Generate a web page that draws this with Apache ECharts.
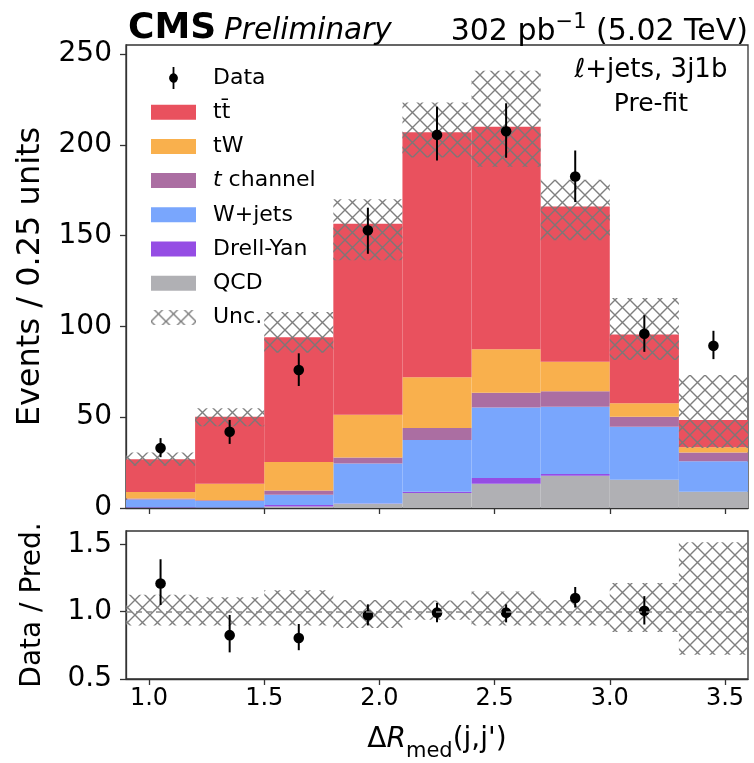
<!DOCTYPE html>
<html>
<head>
<meta charset="utf-8">
<script src="https://cdn.jsdelivr.net/npm/echarts@6/dist/echarts.min.js"></script>
<style>
html,body{margin:0;padding:0;background:#fff;}
#main{width:754px;height:763px;}
</style>
</head>
<body>
<div id="main"></div>
<script>
// ---------------- data ----------------
const binEdges = [0.9, 1.2, 1.5, 1.8, 2.1, 2.4, 2.7, 3.0, 3.3, 3.6];
const qcd      = [0.2, 0.2, 0.8, 2.4, 8.2, 13.4, 17.7, 15.5, 9.0];
const drellYan = [0.2, 0.1, 0.8, 0.1, 0.8, 3.1, 1.0, 0.1, 0.0];
const wjets    = [4.3, 3.5, 5.7, 22.0, 28.5, 38.8, 37.1, 29.2, 16.8];
const tchannel = [0.6, 0.4, 2.4, 3.3, 6.5, 8.2, 8.5, 5.5, 4.7];
const tW       = [3.5, 9.2, 15.6, 23.5, 28.0, 24.0, 16.2, 7.4, 3.0];
const ttbar    = [18.1, 36.9, 68.8, 105.3, 134.9, 122.5, 85.5, 37.9, 15.0];

const uncLow  = [23.3, 45.0, 85.5, 136.5, 193.0, 188.0, 147.4, 81.5, 33.0];
const uncHigh = [30.5, 55.0, 108.0, 170.0, 223.4, 240.8, 180.8, 115.7, 73.2];

const dataY    = [33, 42, 76, 153, 205.5, 207.5, 182.6, 96, 89.3];
const dataLow  = [28.0, 35.3, 67.2, 140.0, 191.4, 192.9, 168.5, 86.0, 82.0];
const dataHigh = [38.5, 48.5, 85.2, 165.4, 221.0, 222.9, 196.9, 106.2, 97.6];

const ratioY    = [1.21, 0.826, 0.805, 0.974, 0.993, 0.993, 1.102, 1.007, null];
const ratioLow  = [1.05, 0.698, 0.714, 0.898, 0.921, 0.921, 1.031, 0.905, null];
const ratioHigh = [1.39, 0.976, 0.909, 1.055, 1.064, 1.055, 1.184, 1.116, null];
const ratioUncLow  = [0.897, 0.897, 0.897, 0.879, 0.94, 0.898, 0.898, 0.85, 0.68];
const ratioUncHigh = [1.126, 1.107, 1.16, 1.088, 1.083, 1.15, 1.088, 1.214, 1.516];

const xTicks = [1.0, 1.5, 2.0, 2.5, 3.0, 3.5];
const yTicks = [0, 50, 100, 150, 200, 250];
const ratioTicks = [0.5, 1.0, 1.5];

// ---------------- styling ----------------
const FONT = 'DejaVu Sans';
const colors = {
  'QCD': '#b0b0b4',
  'Drell-Yan': '#954de4',
  'W+jets': '#79a6fd',
  't channel': '#ab6ea2',
  'tW': '#f9b04d',
  'tt\u0304': '#e9515e'
};

function makeHatch() {
  const c = document.createElement('canvas');
  const s = 15;
  c.width = s; c.height = s;
  const g = c.getContext('2d');
  g.strokeStyle = 'rgba(120,120,120,0.95)';
  g.lineWidth = 1.4;
  g.beginPath();
  g.moveTo(-2, -2); g.lineTo(s + 2, s + 2);
  g.moveTo(s + 2, -2); g.lineTo(-2, s + 2);
  g.stroke();
  return { image: c, repeat: 'repeat' };
}
const hatch = makeHatch();

// stacked process series (bottom to top)
const processes = [
  ['QCD', qcd], ['Drell-Yan', drellYan], ['W+jets', wjets],
  ['t channel', tchannel], ['tW', tW], ['tt\u0304', ttbar]
];
const cum = binEdges.slice(0, -1).map(() => 0);

function rectRender(fill) {
  return function (params, api) {
    const p0 = api.coord([api.value(0), api.value(2)]);
    const p1 = api.coord([api.value(1), api.value(3)]);
    return {
      type: 'rect',
      shape: { x: p0[0], y: p1[1], width: p1[0] - p0[0], height: p0[1] - p1[1] },
      style: { fill: fill, stroke: null }
    };
  };
}

const series = [];
processes.forEach(([name, vals]) => {
  const d = vals.map((v, i) => {
    const lo = cum[i];
    cum[i] += v;
    return [binEdges[i], binEdges[i + 1], lo, cum[i]];
  });
  series.push({
    type: 'custom', name: name, xAxisIndex: 0, yAxisIndex: 0,
    itemStyle: { color: colors[name] },
    encode: { x: [0, 1], y: [2, 3] },
    renderItem: rectRender(colors[name]),
    data: d
  });
});

// uncertainty hatch (top)
series.push({
  type: 'custom', name: 'Unc.', xAxisIndex: 0, yAxisIndex: 0,
  itemStyle: { color: hatch },
  encode: { x: [0, 1], y: [2, 3] },
  renderItem: rectRender(hatch),
  data: uncLow.map((v, i) => [binEdges[i], binEdges[i + 1], v, uncHigh[i]])
});

function errRender(params, api) {
  const x = api.value(0);
  const c = api.coord([x, api.value(1)]);
  const lo = api.coord([x, api.value(2)]);
  const hi = api.coord([x, api.value(3)]);
  return {
    type: 'group',
    children: [
      { type: 'line', shape: { x1: lo[0], y1: lo[1], x2: hi[0], y2: hi[1] },
        style: { stroke: '#000', lineWidth: 2 } },
      { type: 'circle', shape: { cx: c[0], cy: c[1], r: 5.3 }, style: { fill: '#000' } }
    ]
  };
}

series.push({
  type: 'custom', name: 'Data', xAxisIndex: 0, yAxisIndex: 0,
  itemStyle: { color: '#000', borderColor: '#000' },
  encode: { x: 0, y: [1, 2, 3] },
  renderItem: errRender,
  data: dataY.map((v, i) => [(binEdges[i] + binEdges[i + 1]) / 2, v, dataLow[i], dataHigh[i]])
});

// ratio panel
series.push({
  type: 'custom', name: 'Unc.', xAxisIndex: 1, yAxisIndex: 1,
  itemStyle: { color: hatch },
  encode: { x: [0, 1], y: [2, 3] },
  renderItem: rectRender(hatch),
  data: ratioUncLow.map((v, i) => [binEdges[i], binEdges[i + 1], v, ratioUncHigh[i]]),
  markLine: {
    silent: true, symbol: 'none', label: { show: false },
    lineStyle: { color: '#888', type: [6, 4], width: 1.5 },
    data: [{ yAxis: 1.0 }]
  }
});
series.push({
  type: 'custom', name: 'Data', xAxisIndex: 1, yAxisIndex: 1,
  itemStyle: { color: '#000', borderColor: '#000' },
  encode: { x: 0, y: [1, 2, 3] },
  clip: true,
  renderItem: errRender,
  data: ratioY.map((v, i) => v == null ? null :
    [(binEdges[i] + binEdges[i + 1]) / 2, v, ratioLow[i], ratioHigh[i]]).filter(d => d)
});

const axisLineStyle = { color: '#333', width: 1.3 };
const rectIcon = 'path://M0,0H45V15H0Z';
const dataIcon = 'path://M4.1,0H5.9V6.3A4.9,4.9 0 0 1 5.9,15.7V22H4.1V15.7A4.9,4.9 0 0 1 4.1,6.3Z';

const chart = echarts.init(document.getElementById('main'), null, { renderer: 'canvas' });
chart.setOption({
  animation: false,
  backgroundColor: '#fff',
  textStyle: { fontFamily: FONT },
  grid: [
    { left: 126, right: 6, top: 45, height: 463, show: true, borderColor: '#333', borderWidth: 1.3, backgroundColor: 'transparent' },
    { left: 126, right: 6, top: 531, height: 154, show: true, borderColor: '#333', borderWidth: 1.3, backgroundColor: 'transparent' }
  ],
  xAxis: [
    { type: 'value', gridIndex: 0, min: 0.9, max: 3.6,
      axisLine: { show: true, lineStyle: axisLineStyle },
      axisTick: { show: true, length: 6, customValues: xTicks, lineStyle: axisLineStyle },
      axisLabel: { show: false, customValues: xTicks },
      splitLine: { show: false } },
    { type: 'value', gridIndex: 1, min: 0.9, max: 3.6,
      axisLine: { show: true, lineStyle: axisLineStyle },
      axisTick: { show: true, length: 6, customValues: xTicks, lineStyle: axisLineStyle },
      axisLabel: { show: true, customValues: xTicks, fontSize: 24, color: '#000', fontFamily: FONT, margin: 8,
        formatter: v => v.toFixed(1) },
      splitLine: { show: false },
      name: '{a|\u0394}{i|R}{s|med}{a|(j,j\')}',
      nameLocation: 'middle', nameGap: 47,
      nameTextStyle: {
        rich: {
          a: { fontSize: 28, fontFamily: FONT, color: '#000', lineHeight: 36, verticalAlign: 'top' },
          i: { fontSize: 28, fontFamily: FONT, fontStyle: 'italic', color: '#000', lineHeight: 36, verticalAlign: 'top' },
          s: { fontSize: 21, fontFamily: FONT, color: '#000', lineHeight: 21, verticalAlign: 'bottom' }
        }
      } }
  ],
  yAxis: [
    { type: 'value', gridIndex: 0, min: 0, max: 255,
      axisLine: { show: true, lineStyle: axisLineStyle },
      axisTick: { show: true, length: 6, customValues: yTicks, lineStyle: axisLineStyle },
      axisLabel: { customValues: yTicks, fontSize: 28, color: '#000', fontFamily: FONT, margin: 14 },
      splitLine: { show: false },
      name: 'Events / 0.25 units', nameLocation: 'middle', nameGap: 79,
      nameTextStyle: { fontSize: 32, fontFamily: FONT, color: '#000' } },
    { type: 'value', gridIndex: 1, min: 0.5, max: 1.6,
      axisLine: { show: true, lineStyle: axisLineStyle },
      axisTick: { show: true, length: 6, customValues: ratioTicks, lineStyle: axisLineStyle },
      axisLabel: { customValues: ratioTicks, fontSize: 28, color: '#000', fontFamily: FONT, margin: 14,
        formatter: v => v.toFixed(1) },
      splitLine: { show: false },
      name: 'Data / Pred.', nameLocation: 'middle', nameGap: 79,
      nameTextStyle: { fontSize: 28, fontFamily: FONT, color: '#000' } }
  ],
  legend: {
    orient: 'vertical', left: 146, top: 62,
    itemWidth: 45, itemHeight: 22, itemGap: 12.2,
    symbolKeepAspect: true,
    selectedMode: false,
    textStyle: { fontSize: 22, fontFamily: FONT, color: '#000', padding: [0, 0, 0, 12],
      rich: { i: { fontSize: 22, fontStyle: 'italic', fontFamily: FONT, color: '#000' },
              n: { fontSize: 22, fontFamily: FONT, color: '#000' } } },
    formatter: name => name === 't channel' ? '{i|t}{n| channel}' : name,
    data: [
      { name: 'Data', icon: dataIcon, itemStyle: { color: '#000', borderWidth: 0 } },
      { name: 'tt\u0304', icon: rectIcon },
      { name: 'tW', icon: rectIcon },
      { name: 't channel', icon: rectIcon },
      { name: 'W+jets', icon: rectIcon },
      { name: 'Drell-Yan', icon: rectIcon },
      { name: 'QCD', icon: rectIcon },
      { name: 'Unc.', icon: rectIcon }
    ]
  },
  graphic: [
    { type: 'text', x: 128, y: 47,
      style: { text: 'CMS', font: 'bold 36px "DejaVu Sans"', fill: '#000', textVerticalAlign: 'bottom', verticalAlign: 'bottom' } },
    { type: 'text', x: 224, y: 46,
      style: { text: 'Preliminary', font: 'italic 29.5px "DejaVu Sans"', fill: '#000', textVerticalAlign: 'bottom', verticalAlign: 'bottom' } },
    { type: 'text', x: 748, y: 47,
      style: { text: '{m|302 pb}{s|\u22121}{m| (5.02 TeV)}', fill: '#000',
        textAlign: 'right', align: 'right', textVerticalAlign: 'bottom', verticalAlign: 'bottom',
        rich: {
          m: { fontSize: 30, fontFamily: FONT, lineHeight: 35, verticalAlign: 'bottom' },
          s: { fontSize: 21, fontFamily: FONT, lineHeight: 21, verticalAlign: 'top' }
        } } },
    { type: 'text', x: 651, y: 70,
      style: { text: '\u2113+jets, 3j1b', font: '26px "DejaVu Sans"', fill: '#000',
        textAlign: 'center', align: 'center', textVerticalAlign: 'middle', verticalAlign: 'middle' } },
    { type: 'text', x: 651, y: 104,
      style: { text: 'Pre-fit', font: '25px "DejaVu Sans"', fill: '#000',
        textAlign: 'center', align: 'center', textVerticalAlign: 'middle', verticalAlign: 'middle' } }
  ],
  series: series
});
</script>
</body>
</html>
